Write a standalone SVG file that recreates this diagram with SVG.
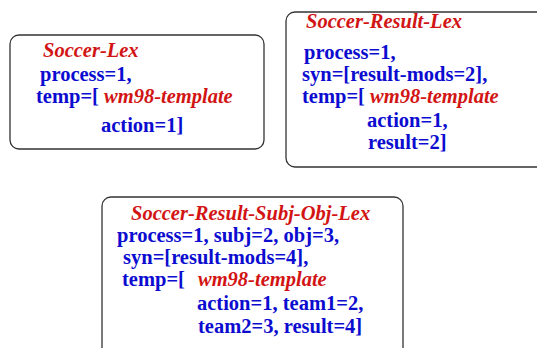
<svg xmlns="http://www.w3.org/2000/svg" width="537" height="348" viewBox="0 0 537 348">
<style>
.box{fill:#fff;stroke:#333;stroke-width:1.3}
text{font-family:"Liberation Serif","Times New Roman",serif;font-size:20.5px;font-weight:bold}
.b{fill:#0c0cd0}
.r{fill:#d21414;font-style:italic}
</style>
<rect width="537" height="348" fill="#fff"/>
<g id="connectors"></g>
<g id="soccer-lex">
<rect class="box" x="10" y="35" width="254" height="114" rx="9"/>
<text class="r" x="43" y="57">Soccer-Lex</text>
<text class="b" x="40" y="81">process=1,</text>
<text class="b" x="36" y="103">temp=[ <tspan class="r">wm98-template</tspan></text>
<text class="b" x="101" y="132">action=1]</text>
</g>
<g id="soccer-result-lex">
<rect class="box" x="286" y="12" width="262" height="155" rx="9"/>
<text class="r" x="306" y="28">Soccer-Result-Lex</text>
<text class="b" x="304" y="59">process=1,</text>
<text class="b" x="302" y="81">syn=[result-mods=2],</text>
<text class="b" x="302" y="103">temp=[ <tspan class="r">wm98-template</tspan></text>
<text class="b" x="367" y="127">action=1,</text>
<text class="b" x="368" y="149">result=2]</text>
</g>
<g id="soccer-result-subj-obj-lex">
<rect class="box" x="102" y="197" width="301" height="165" rx="9"/>
<text class="r" x="131" y="220">Soccer-Result-Subj-Obj-Lex</text>
<text class="b" x="117" y="242">process=1, subj=2, obj=3,</text>
<text class="b" x="123" y="264">syn=[result-mods=4],</text>
<text class="b" x="122" y="286">temp=[</text>
<text class="r" x="198" y="286">wm98-template</text>
<text class="b" x="197" y="310">action=1, team1=2,</text>
<text class="b" x="198" y="333">team2=3, result=4]</text>
</g>
</svg>
